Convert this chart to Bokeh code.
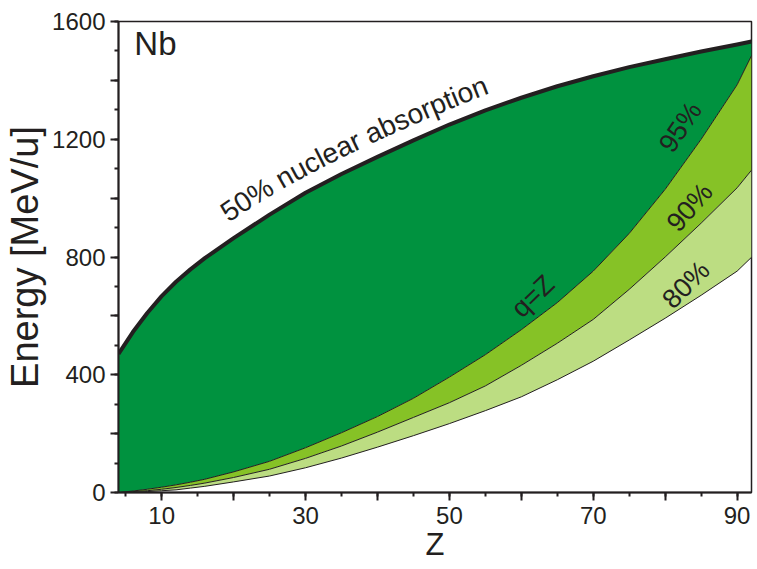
import math
import numpy as np
from bokeh.plotting import figure
from bokeh.models import ColumnDataSource, Range1d, FixedTicker, Label
from bokeh.embed import file_html
from bokeh.resources import INLINE

# ---- data ----
Z = [4, 6, 8, 10, 12, 14, 16, 20, 25, 30, 35, 40, 45, 50, 55, 60, 65, 70, 75, 80, 85, 90, 92]
E_abs50 = [471, 545, 610, 667, 716, 758, 796, 864, 944, 1018, 1082, 1140, 1196, 1250, 1298, 1341, 1380, 1414, 1445, 1472, 1498, 1522, 1532]
E_q95 = [0, 5, 11, 18, 26, 35, 45, 70, 106, 152, 203, 258, 320, 392, 468, 553, 645, 752, 880, 1030, 1200, 1385, 1484]
E_q90 = [0, 3, 6, 11, 17, 24, 32, 51, 79, 116, 158, 205, 255, 305, 362, 432, 507, 588, 690, 800, 915, 1035, 1095]
E_q80 = [0, 1, 3, 6, 9, 15, 21, 36, 56, 84, 117, 154, 193, 234, 278, 325, 383, 446, 518, 592, 670, 752, 799]

x_major = [10, 20, 30, 40, 50, 60, 70, 80, 90]
x_minor = [5, 10, 15, 20, 25, 30, 35, 40, 45, 50, 55, 60, 65, 70, 75, 80, 85, 90]
x_hidden = [20, 40, 60, 80]
y_major = [0, 200, 400, 600, 800, 1000, 1200, 1400, 1600]
y_minor = list(range(0, 1601, 100))
y_hidden = [200, 600, 1000, 1400]

top_label = "50% nuclear absorption"
curve_labels = ["95%", "90%", "80%", "q=Z"]

FONT = "Liberation Sans"
INK = "#231F20"
DARK = "#00923F"
MID = "#86C226"
LIGHT = "#BCDD82"

X0, X1, Y0, Y1 = 4, 92, 0, 1600
W, H = 757, 569
BL, BR, BT, BB = 118, 6, 21, 77
FW, FH = W - BL - BR, H - BT - BB

src = ColumnDataSource(dict(z=Z, top=E_abs50, q95=E_q95, q90=E_q90, q80=E_q80))

p = figure(width=W, height=H, output_backend="svg", toolbar_location=None,
           x_range=Range1d(X0, X1), y_range=Range1d(Y0, Y1),
           min_border_left=BL, min_border_right=BR, min_border_top=BT, min_border_bottom=BB)
p.background_fill_color = "white"
p.border_fill_color = "white"
p.grid.visible = False
p.outline_line_color = INK
p.outline_line_width = 1.5

p.varea(x="z", y1="q95", y2="top", source=src, fill_color=DARK)
p.varea(x="z", y1="q90", y2="q95", source=src, fill_color=MID)
p.varea(x="z", y1="q80", y2="q90", source=src, fill_color=LIGHT)

for col in ["q95", "q90", "q80"]:
    p.line(x="z", y=col, source=src, line_color=INK, line_width=1, line_join="round")
p.line(x="z", y="top", source=src, line_color=INK, line_width=4, line_join="round")

# axes
p.xaxis.ticker = FixedTicker(ticks=x_major, minor_ticks=x_minor)
p.xaxis.major_label_overrides = {v: "" for v in x_hidden}
p.yaxis.ticker = FixedTicker(ticks=y_major, minor_ticks=y_minor)
p.yaxis.major_label_overrides = {v: "" for v in y_hidden}
for ax in (p.xaxis, p.yaxis):
    ax.axis_line_color = INK
    ax.axis_line_width = 2
    ax.major_tick_line_color = INK
    ax.minor_tick_line_color = INK
    ax.major_tick_line_width = 2
    ax.minor_tick_line_width = 2
    ax.major_tick_in = 0
    ax.minor_tick_in = 0
    ax.major_tick_out = 8
    ax.minor_tick_out = 4
    ax.major_label_text_font = FONT
    ax.major_label_text_font_size = "24px"
    ax.major_label_text_color = INK
    ax.axis_label_text_font = FONT
    ax.axis_label_text_font_style = "normal"
    ax.axis_label_text_color = INK
p.xaxis.major_label_standoff = 6
p.yaxis.major_label_standoff = 5
p.xaxis.axis_label = "Z"
p.xaxis.axis_label_text_font_size = "31px"
p.xaxis.axis_label_standoff = 0
p.yaxis.axis_label = "Energy [MeV/u]"
p.yaxis.axis_label_text_font_size = "38px"
p.yaxis.axis_label_standoff = 3

p.add_layout(Label(x=6.2, y=1525, text="Nb", text_font=FONT, text_font_size="33px",
                   text_color=INK, text_align="left", text_baseline="alphabetic"))

# ---- curved label along the 50% line (placement only) ----
ADV = {'5': .556, '0': .556, '%': .889, ' ': .278, 'n': .556, 'u': .556, 'c': .5, 'l': .222,
       'e': .556, 'a': .556, 'r': .333, 'b': .556, 's': .5, 'o': .556, 'p': .556, 't': .278, 'i': .222}
fs = 28
sel = [i for i, z in enumerate(Z) if 8 <= z <= 70]
coef = np.polyfit([Z[i] for i in sel], [E_abs50[i] for i in sel], 4)
zz = np.linspace(10, 70, 1200)
px = (zz - X0) * FW / (X1 - X0)
py = np.polyval(coef, zz) * FH / (Y1 - Y0)
dx, dy = np.gradient(px), np.gradient(py)
nrm = np.hypot(dx, dy)
tx, ty = dx / nrm, dy / nrm
d = 24
bx, by = px - d * ty, py + d * tx
seg = np.hypot(np.diff(bx), np.diff(by))
arc = np.concatenate([[0], np.cumsum(seg)])
ang = np.arctan2(np.gradient(by), np.gradient(bx))
s0 = float(np.interp(105.0, bx, arc))
cum = 0.0
for ch in top_label:
    w = ADV[ch] * fs
    s = s0 + cum + w / 2
    cum += w
    if ch == ' ':
        continue
    cx = float(np.interp(s, arc, bx))
    cy = float(np.interp(s, arc, by))
    a = float(np.interp(s, arc, ang))
    p.add_layout(Label(x=X0 + cx * (X1 - X0) / FW, y=Y0 + cy * (Y1 - Y0) / FH, text=ch,
                       text_font=FONT, text_font_size=f"{fs}px", text_color=INK,
                       text_align="center", text_baseline="alphabetic",
                       angle=a, angle_units="rad"))

lab_pos = [(82.1, 1241, 56), (83.4, 969, 49), (82.9, 706, 45), (61.6, 667, 44)]
for t, (zx, ey, a) in zip(curve_labels, lab_pos):
    p.add_layout(Label(x=zx, y=ey, text=t, text_font=FONT, text_font_size="27px",
                       text_color=INK, text_align="center", text_baseline="middle",
                       angle=a, angle_units="deg"))

open("out.html", "w").write(file_html(p, INLINE))
